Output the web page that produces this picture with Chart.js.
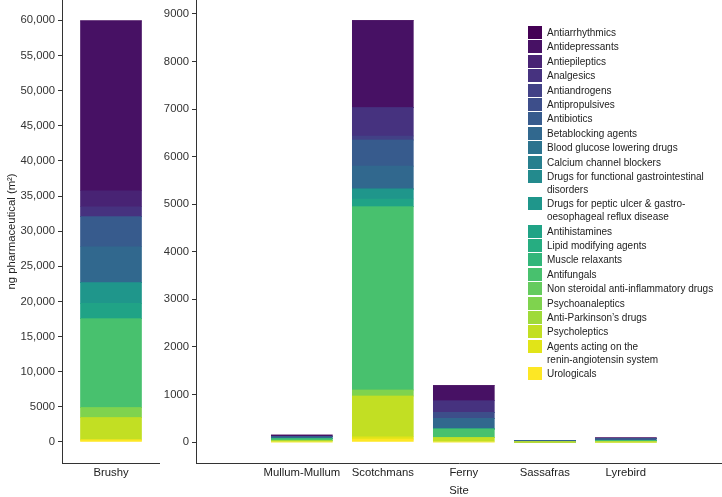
<!DOCTYPE html>
<html>
<head>
<meta charset="utf-8">
<script src="https://cdn.jsdelivr.net/npm/chart.js@4.4.1/dist/chart.umd.min.js"></script>
<style>
  html, body { margin: 0; padding: 0; background: #fff; width: 722px; height: 497px; overflow: hidden;
    font-family: "Liberation Sans", Arial, Helvetica, sans-serif; }
  #leftBox { position: absolute; left: 0; top: 0; width: 160px; height: 497px; }
  #rightBox { position: absolute; left: 160px; top: 0; width: 562px; height: 497px; }
  #legend { position: absolute; left: 528px; top: 26px; font-size: 10px; line-height: 13px; color: #222; }
  .item { display: flex; align-items: flex-start; margin-bottom: 1.4px; }
  .swatch { width: 14px; height: 13px; margin-right: 5px; flex: none; }
  .label { white-space: pre-line; }
</style>
</head>
<body>
<div id="leftBox"><canvas id="leftChart"></canvas></div>
<div id="rightBox"><canvas id="rightChart"></canvas></div>
<div id="legend"></div>

<script>
// ====== DATA ======
const leftSites = ["Brushy"];
const rightSites = ["Mullum-Mullum", "Scotchmans", "Ferny", "Sassafras", "Lyrebird"];

const drugClasses = [
  "Antiarrhythmics", "Antidepressants", "Antiepileptics", "Analgesics", "Antiandrogens",
  "Antipropulsives", "Antibiotics", "Betablocking agents", "Blood glucose lowering drugs",
  "Calcium channel blockers", "Drugs for functional gastrointestinal\ndisorders",
  "Drugs for peptic ulcer & gastro-\noesophageal reflux disease", "Antihistamines",
  "Lipid modifying agents", "Muscle relaxants", "Antifungals",
  "Non steroidal anti-inflammatory drugs", "Psychoanaleptics", "Anti-Parkinson\u2019s drugs",
  "Psycholeptics", "Agents acting on the\nrenin-angiotensin system", "Urologicals"
];

// viridis, 22 levels
const classColors = [
  "#440154", "#471164", "#482374", "#46327f", "#424186", "#3d4e8a", "#375b8d", "#31688e",
  "#2c738e", "#277f8e", "#238a8d", "#1f968b", "#20a386", "#26ad81", "#32b67a", "#48c16e",
  "#65cb5e", "#7fd34e", "#9fda3a", "#c2df23", "#e1e418", "#fde725"
];

// ng per m2, one value per drug class (same order as drugClasses)
const brushy       = [0, 24180, 2280, 1420, 0, 0, 4270, 5120, 0, 0, 0, 2930, 2190, 0, 0, 12660, 0, 1420, 0, 3160, 0, 300];
const mullumMullum = [0, 36, 0, 0, 0, 0, 0, 42, 0, 0, 0, 0, 0, 0, 0, 42, 0, 0, 0, 27, 0, 0];
const scotchmans   = [0, 1829, 0, 595, 84, 0, 550, 480, 0, 0, 0, 211, 162, 0, 0, 3854, 0, 126, 0, 856, 51, 60];
const ferny        = [0, 316, 0, 244, 0, 126, 0, 225, 0, 0, 0, 0, 0, 0, 0, 182, 0, 0, 0, 91, 0, 0];
const sassafras    = [0, 0, 0, 0, 0, 0, 0, 30, 0, 0, 0, 0, 0, 0, 0, 0, 0, 0, 0, 0, 0, 0];
const lyrebird     = [0, 20, 0, 0, 0, 0, 40, 0, 0, 0, 0, 0, 0, 0, 0, 30, 0, 0, 0, 0, 0, 0];

const rightValues = [mullumMullum, scotchmans, ferny, sassafras, lyrebird];

const leftTicks = [0, 5000, 10000, 15000, 20000, 25000, 30000, 35000, 40000, 45000, 50000, 55000, 60000];
const rightTicks = [0, 1000, 2000, 3000, 4000, 5000, 6000, 7000, 8000, 9000];

// ====== SHARED STYLE ======
const FONT = "'Liberation Sans', Arial, Helvetica, sans-serif";
const tickFont = { family: FONT, size: 11.3 };
const titleFont = { family: FONT, size: 11.3, lineHeight: 1 };

function noPad(scale) {
  scale.paddingTop = 0; scale.paddingBottom = 0;
  scale.paddingLeft = 0; scale.paddingRight = 0;
}

function yAxis(min, max, ticks, width, fmt, title) {
  return {
    type: "linear",
    stacked: true,
    min: min,
    max: max,
    afterBuildTicks: s => { s.ticks = ticks.map(v => ({ value: v })); },
    afterFit: s => { s.width = width; noPad(s); },
    ticks: { color: "#333", font: tickFont, padding: 3, callback: fmt },
    grid: { drawOnChartArea: false, drawTicks: true, tickLength: 4, color: "#333" },
    border: { display: true, color: "#333", width: 1 },
    title: title
  };
}

// order reversed so the first class sits on top of the stack
const order = drugClasses.map((_, i) => i).reverse();

// ====== LEFT PANEL (Brushy) ======
new Chart(document.getElementById("leftChart"), {
  type: "bar",
  data: {
    labels: leftSites,
    datasets: order.map(i => ({
      label: drugClasses[i],
      data: [brushy[i]],
      backgroundColor: classColors[i],
      borderWidth: 0,
      barThickness: 61
    }))
  },
  options: {
    responsive: true,
    maintainAspectRatio: false,
    animation: false,
    layout: { padding: 0 },
    plugins: { legend: { display: false }, tooltip: { enabled: false } },
    scales: {
      x: {
        stacked: true,
        afterFit: s => { s.height = 34; noPad(s); },
        ticks: { color: "#222", font: tickFont, padding: 3 },
        grid: { display: false, drawTicks: false },
        border: { display: true, color: "#333", width: 1 }
      },
      y: yAxis(-2988, 62890, leftTicks, 62,
        v => v >= 10000 ? v.toLocaleString("en-US") : String(v),
        { display: true, text: "ng pharmaceutical (m\u00b2)", color: "#222", font: titleFont, padding: { top: 6, bottom: 0 } })
    }
  }
});

// ====== RIGHT PANEL (other sites) ======
new Chart(document.getElementById("rightChart"), {
  type: "bar",
  data: {
    datasets: order.map(i => ({
      label: drugClasses[i],
      data: rightValues.map((arr, j) => ({ x: j + 1, y: arr[i] })),
      backgroundColor: classColors[i],
      borderWidth: 0,
      barThickness: 61
    }))
  },
  options: {
    responsive: true,
    maintainAspectRatio: false,
    animation: false,
    layout: { padding: 0 },
    plugins: { legend: { display: false }, tooltip: { enabled: false } },
    scales: {
      x: {
        type: "linear",
        stacked: true,
        min: 0.343,
        max: 5.538,
        afterBuildTicks: s => { s.ticks = rightSites.map((_, j) => ({ value: j + 1 })); },
        afterFit: s => { s.height = 34; noPad(s); },
        ticks: { color: "#222", font: tickFont, padding: 3, callback: v => rightSites[v - 1] },
        grid: { display: false, drawTicks: false },
        border: { display: true, color: "#333", width: 1 },
        title: { display: true, text: "Site", color: "#222", font: titleFont, padding: { top: 0, bottom: 0 } }
      },
      y: yAxis(-441.5, 9293, rightTicks, 36, v => String(v), { display: false })
    }
  }
});

// ====== LEGEND ======
const legend = document.getElementById("legend");
drugClasses.forEach((name, i) => {
  const row = document.createElement("div");
  row.className = "item";
  row.innerHTML = `<div class="swatch" style="background:${classColors[i]}"></div><div class="label"></div>`;
  row.querySelector(".label").textContent = name;
  legend.appendChild(row);
});
</script>
</body>
</html>
